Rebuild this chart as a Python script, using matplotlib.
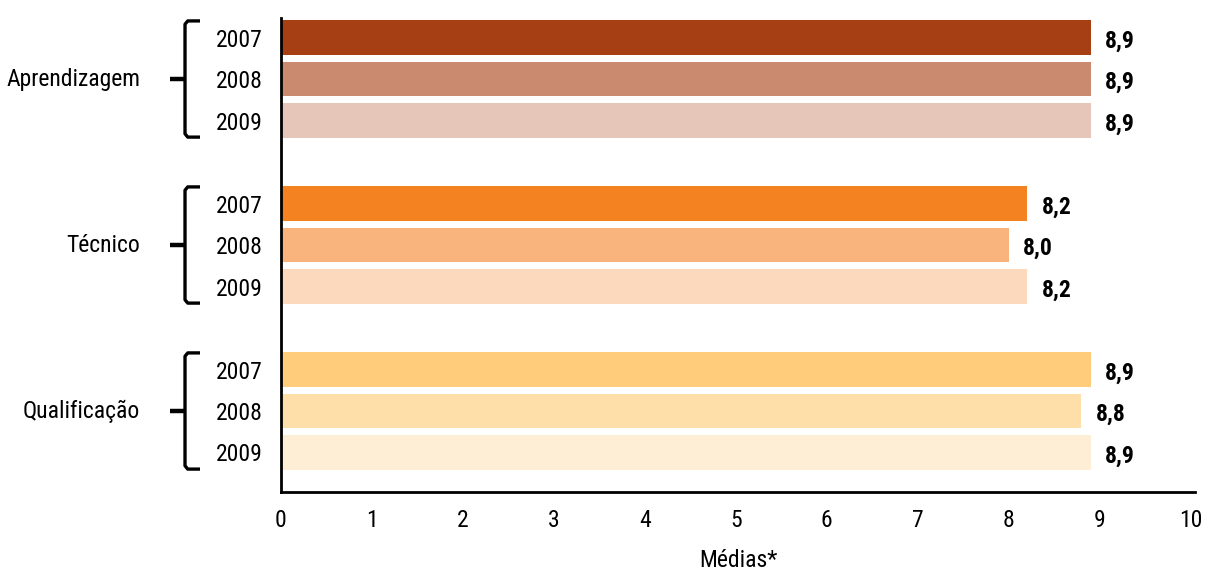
import numpy as np
import matplotlib
matplotlib.use("Agg")
import matplotlib.pyplot as plt
from matplotlib.font_manager import fontManager

# data
groups = ["Aprendizagem", "Técnico", "Qualificação"]
years = ["2007", "2008", "2009"]
values = [
    [8.9, 8.9, 8.9],
    [8.2, 8.0, 8.2],
    [8.9, 8.8, 8.9],
]
value_labels = [
    ["8,9", "8,9", "8,9"],
    ["8,2", "8,0", "8,2"],
    ["8,9", "8,8", "8,9"],
]
colors = [
    ["#A63F14", "#C98A70", "#E5C6B8"],
    ["#F58220", "#F9B47E", "#FCD8BC"],
    ["#FECC7A", "#FEDFAA", "#FEEED6"],
]
xticks = list(range(0, 11))

names = {f.name for f in fontManager.ttflist}
fam = "DejaVu Sans"
for cand in ["Roboto Condensed", "Liberation Sans Narrow", "Archivo Narrow",
             "PT Sans Narrow", "Arimo"]:
    if cand in names:
        fam = cand
        break
plt.rcParams["font.family"] = [fam, "DejaVu Sans"]

fig = plt.figure(figsize=(12.06, 5.72), dpi=100)
ax = fig.add_axes([0.233, 0.140, 0.758, 0.8285])

ypos, ylabels = [], []
for g, grp in enumerate(groups):
    for i, yr in enumerate(years):
        y = g * 4 + i
        ypos.append(y)
        ylabels.append(yr)
        v = values[g][i]
        ax.barh(y, v, height=0.83, color=colors[g][i], edgecolor="none")
        ax.text(v + 0.16, y + 0.08, value_labels[g][i], va="center", ha="left",
                fontsize=17, fontweight="bold")

ax.set_ylim(10.95, -0.47)
ax.set_xlim(0, 10.05)
ax.set_yticks(ypos)
ax.set_yticklabels(ylabels)
ax.set_xticks(xticks)
ax.tick_params(axis="y", length=0, pad=13, labelsize=17)
ax.tick_params(axis="x", length=0, pad=12, labelsize=17)
for s in ["top", "right"]:
    ax.spines[s].set_visible(False)
for s in ["left", "bottom"]:
    ax.spines[s].set_linewidth(2)
ax.set_xlabel("Médias*", fontsize=17, labelpad=12.5)

# braces and group labels (x in axes fraction, y in data units)
tr = ax.get_yaxis_transform()
bx, hook, tick = -0.105, -0.0886, -0.121
for g, grp in enumerate(groups):
    top = g * 4 - 0.4
    bot = g * 4 + 2 + 0.4
    mid = g * 4 + 1
    xs = [hook, bx + 0.003, bx, bx, bx + 0.003, hook]
    ys = [top, top, top + 0.08, bot - 0.08, bot, bot]
    ax.plot(xs, ys, transform=tr, color="black", lw=2.4, clip_on=False,
            solid_joinstyle="round", solid_capstyle="butt")
    ax.plot([tick, bx], [mid, mid], transform=tr, color="black",
            lw=3.2, clip_on=False, solid_capstyle="butt")
    ax.text(-0.154, mid, grp, transform=tr, ha="right", va="center", fontsize=17)

fig.savefig("out.png", dpi=100)
